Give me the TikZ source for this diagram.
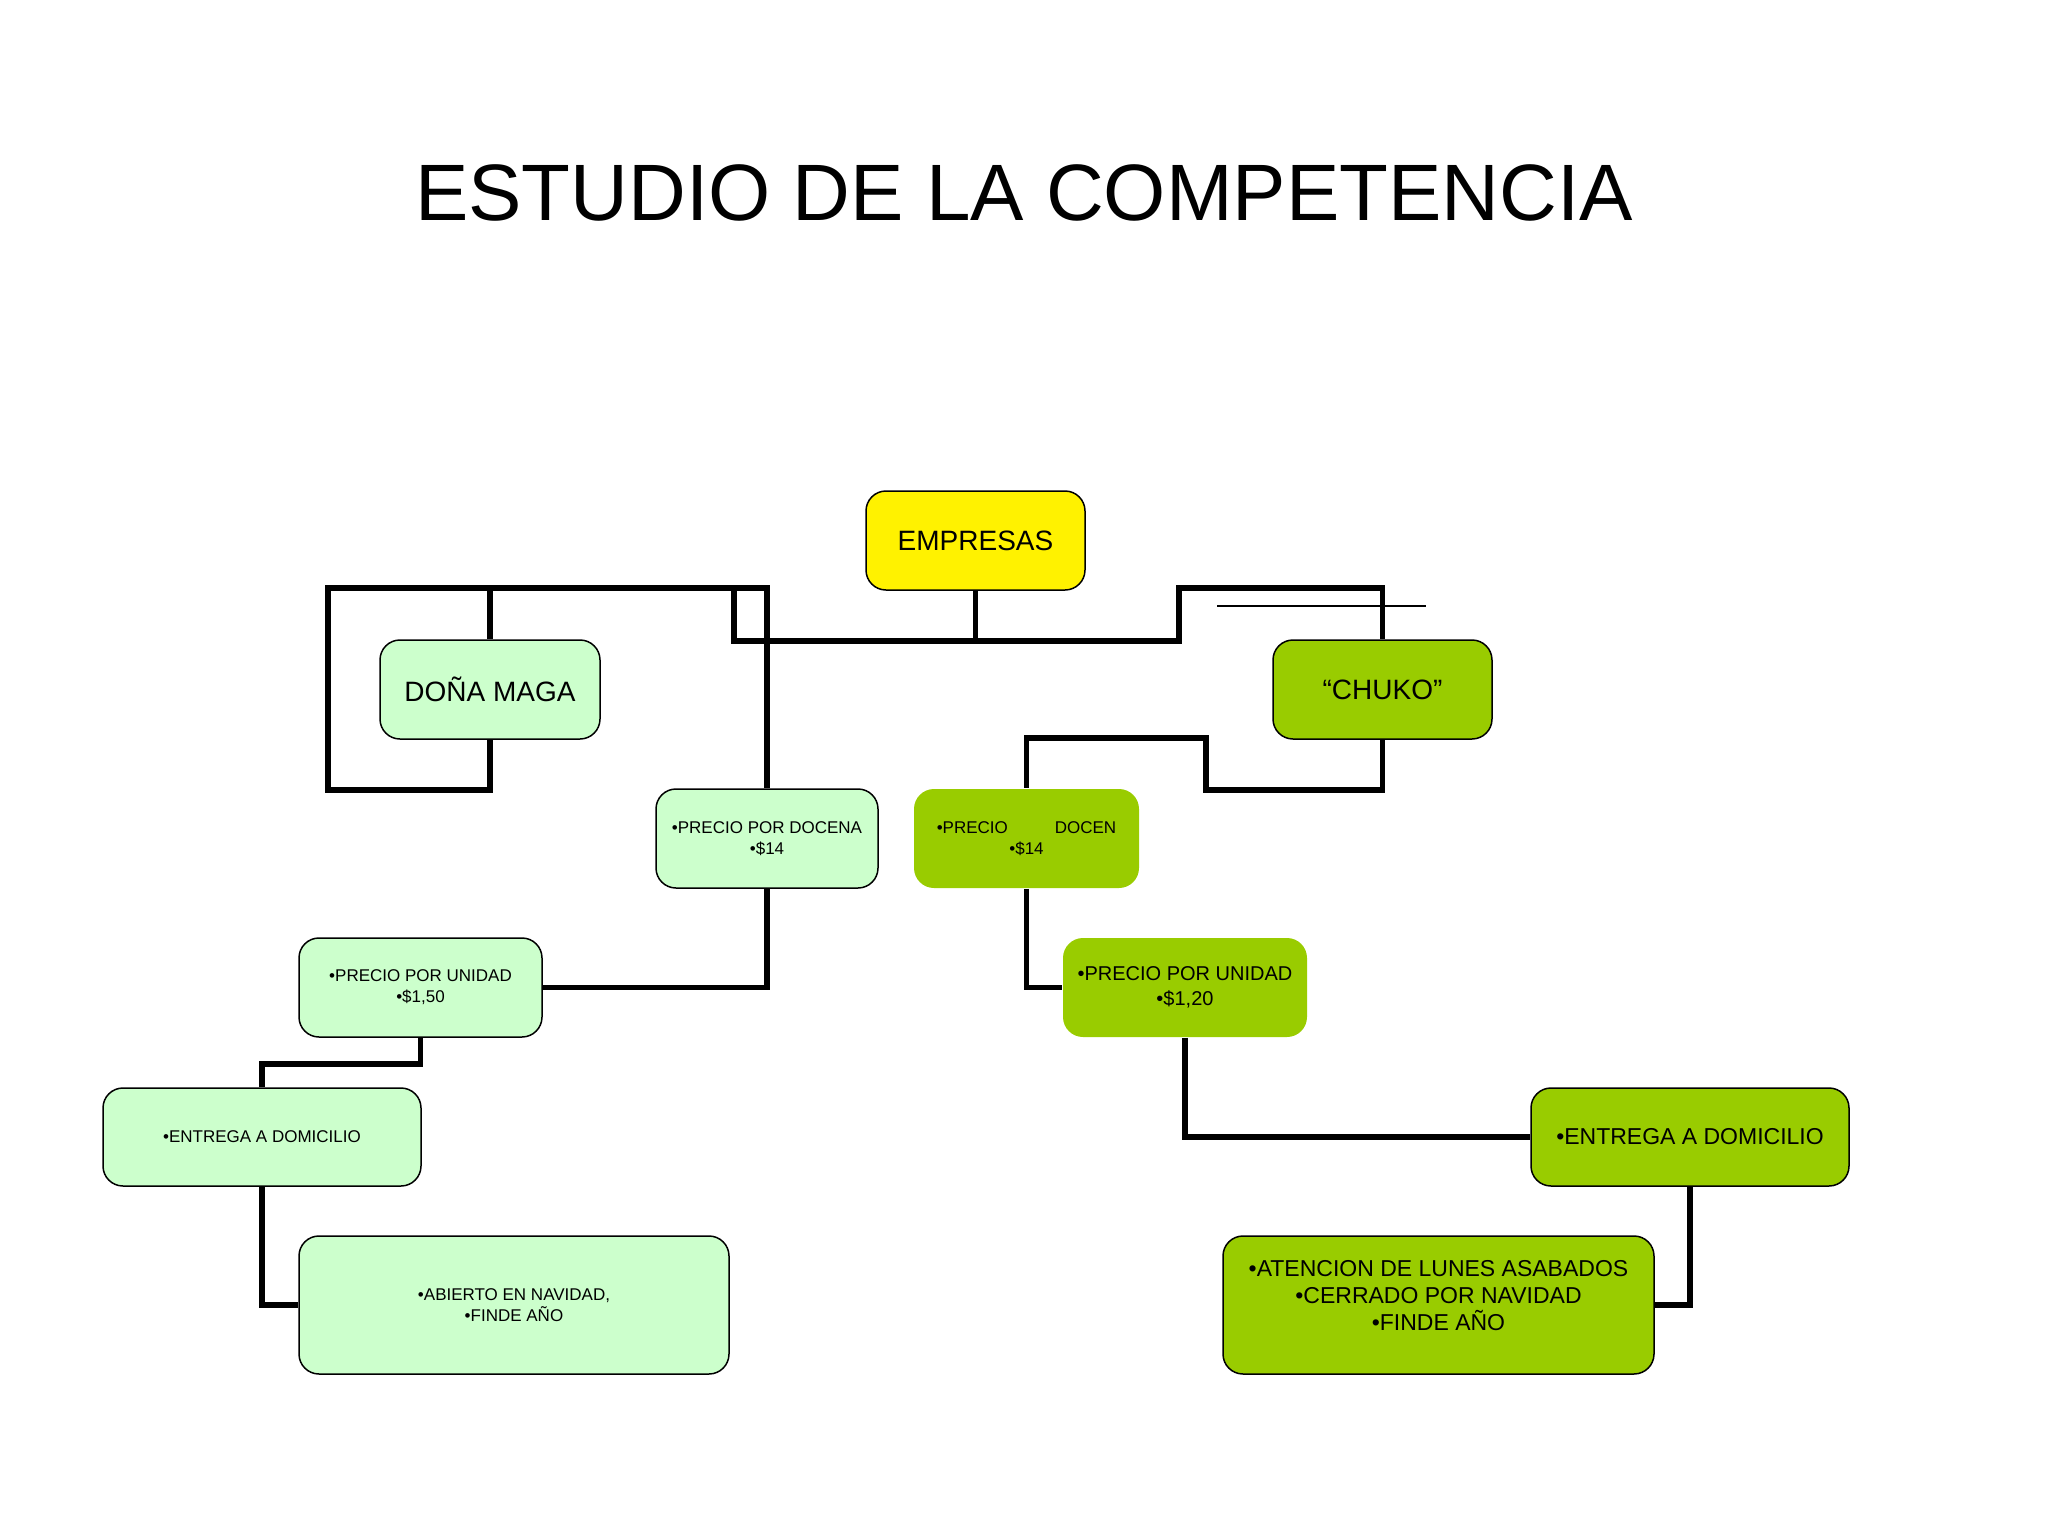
\documentclass[tikz,border=0pt]{standalone}
\usepackage{fontspec}
\setmainfont{Liberation Sans}
\definecolor{claro}{HTML}{CCFFCC}
\definecolor{verde}{HTML}{99CC00}
\begin{document}
\begin{tikzpicture}[x=1pt,y=-1pt,
    caja/.style={rounded corners=20pt,draw=black,line width=1.5pt,minimum height=99pt,align=center,inner sep=0pt},
    sinborde/.style={caja,draw=none},
    linea/.style={line width=5.5pt,line join=miter},
    chica/.style={font=\fontsize{17}{21}\selectfont},
    media/.style={font=\fontsize{20}{25}\selectfont},
    mayor/.style={font=\fontsize{23}{27}\selectfont},
    grande/.style={font=\fontsize{28}{34}\selectfont}]
  \useasboundingbox (0,0) rectangle (2048,1536);
  \node[font=\fontsize{80}{96}\selectfont] (titulo) at (1024,193) {ESTUDIO DE LA COMPETENCIA};

  \node[caja,fill=yellow,grande,minimum width=219pt] (emp) at (975.5,540.5) {EMPRESAS};
  \node[caja,fill=claro,grande,minimum width=220pt] (dm) at (490,689.5) {DOÑA MAGA};
  \node[caja,fill=verde,grande,minimum width=219pt] (chuko) at (1382.5,689.5) {“CHUKO”};
  \node[caja,fill=claro,chica,minimum width=222pt] (doc1) at (767,838.5) {•PRECIO POR DOCENA\\•\$14};
  \node[sinborde,fill=verde,chica,minimum width=225pt] (doc2) at (1026.5,838.5) {•PRECIO\hspace{47pt}DOCEN\\•\$14};
  \node[caja,fill=claro,chica,minimum width=243pt] (uni1) at (420.5,987.5) {•PRECIO POR UNIDAD\\•\$1,50};
  \node[sinborde,fill=verde,media,minimum width=244pt] (uni2) at (1185,987.5) {•PRECIO POR UNIDAD\\•\$1,20};
  \node[caja,fill=claro,chica,minimum width=318pt,minimum height=98pt] (ent1) at (262,1137) {•ENTREGA A DOMICILIO};
  \node[caja,fill=verde,mayor,minimum width=318pt,minimum height=98pt] (ent2) at (1690,1137) {•ENTREGA A DOMICILIO};
  \node[caja,fill=claro,chica,minimum width=430pt,minimum height=138pt] (abi) at (514,1305) {•ABIERTO EN NAVIDAD,\\•FINDE AÑO};
  \node[caja,fill=verde,mayor,minimum width=431pt,minimum height=138pt,text depth=20pt] (aten) at (1438.5,1305) {•ATENCION DE LUNES ASABADOS\\•CERRADO POR NAVIDAD\\•FINDE AÑO};

  % conectores
  \draw[linea] (emp.south) |- (734,641) -- (734,588) -| (dm.north);
  \draw[linea] (emp.south) |- (1179,641) -- (1179,588) -| (chuko.north);
  \draw[linea] (dm.south) |- (328,790) -- (328,588) -| (doc1.north);
  \draw[line width=2pt] (1217,606) -- (1426,606);
  \draw[linea] (chuko.south) |- (1206,790) -- (1206,738) -| (doc2.north);
  \draw[linea] (doc1.south) |- (uni1.east);
  \draw[linea] (doc2.south) |- (uni2.west);
  \draw[linea] (uni1.south) -- ++(0,26) -| (ent1.north);
  \draw[linea] (uni2.south) |- (ent2.west);
  \draw[linea] (ent1.south) |- (abi.west);
  \draw[linea] (ent2.south) |- (aten.east);
\end{tikzpicture}
\end{document}
